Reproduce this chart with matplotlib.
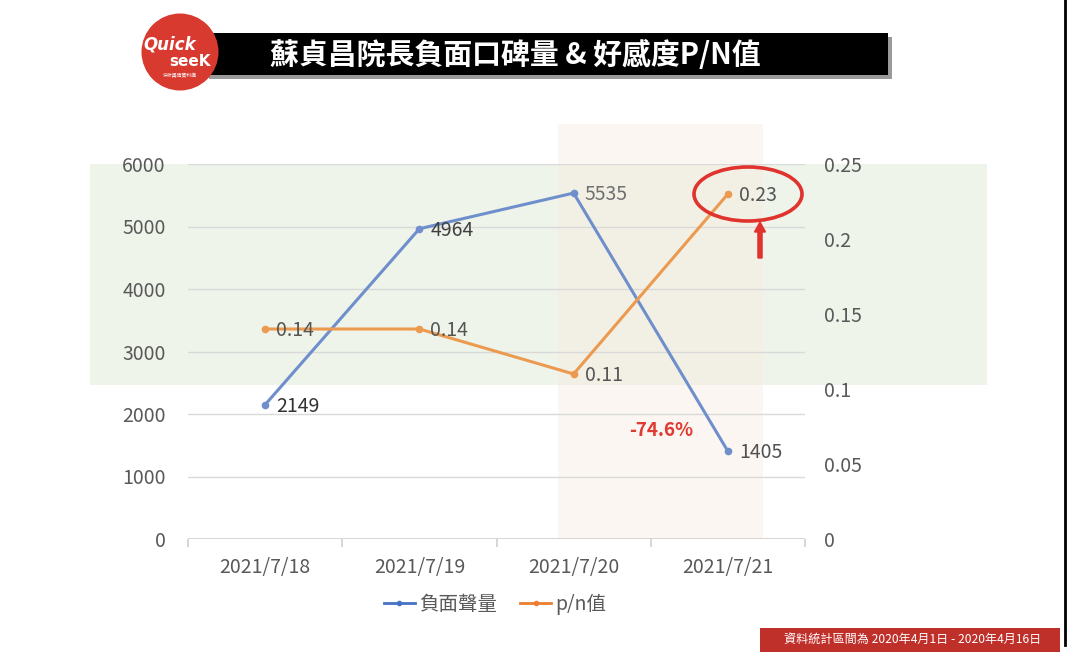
import matplotlib
matplotlib.use('Agg')
import matplotlib.pyplot as plt
from matplotlib.patches import Rectangle, Ellipse, FancyArrow

plt.rcParams['font.family'] = ['Noto Sans CJK TC', 'DejaVu Sans']

# data
dates = ['2021/7/18', '2021/7/19', '2021/7/20', '2021/7/21']
neg_volume = [2149, 4964, 5535, 1405]
pn_ratio = [0.14, 0.14, 0.11, 0.23]
title = '蘇貞昌院長負面口碑量 & 好感度P/N值'
footer = '資料統計區間為 2020年4月1日 - 2020年4月16日'
change_note = '-74.6%'

W, H = 1068, 652
fig = plt.figure(figsize=(W / 100, H / 100), dpi=100)


def px_rect(x0, y0, x1, y1, **kw):
    # rectangle given in pixel coords (y from top)
    r = Rectangle((x0 / W, 1 - y1 / H), (x1 - x0) / W, (y1 - y0) / H,
                  transform=fig.transFigure, **kw)
    fig.patches.append(r)
    return r


# background bands
px_rect(90, 164, 987, 385, facecolor='#eef4ea', edgecolor='none', zorder=-3)
px_rect(558, 124, 763, 539, facecolor='#f8ece0', edgecolor='none', alpha=0.45, zorder=-2)

# right edge line
fig.add_artist(plt.Line2D([1065 / W, 1065 / W], [1 - 645 / H, 1], color='black', lw=2,
                          transform=fig.transFigure))

# title bar with shadow
px_rect(209, 37, 892, 79, facecolor='#9a9a9a', edgecolor='none', zorder=1)
px_rect(205, 33, 888, 75, facecolor='black', edgecolor='none', zorder=2)
fig.text(270 / W, 1 - 55 / H, title, color='white', fontsize=20.8, fontweight='bold',
         va='center', ha='left', zorder=3)

# logo
logo = Ellipse((180 / W, 1 - 52 / H), 77 / W, 77 / H, transform=fig.transFigure,
               facecolor='#d93a2f', edgecolor='none', zorder=4)
fig.patches.append(logo)
fig.text(170 / W, 1 - 45 / H, 'Quick', color='white', fontsize=12, fontweight='bold',
         fontstyle='italic', ha='center', va='center', zorder=5, family='DejaVu Sans')
fig.text(190 / W, 1 - 62 / H, 'seeK', color='white', fontsize=11, fontweight='bold',
         ha='center', va='center', zorder=5, family='DejaVu Sans')
fig.text(180 / W, 1 - 76 / H, '快析輿情資料庫', color='white', fontsize=3.5,
         ha='center', va='center', zorder=5)

# footer
px_rect(760, 628, 1060, 652, facecolor='#c0302a', edgecolor='none', zorder=1)
fig.text(913 / W, 1 - 640 / H, footer, color='white', fontsize=8.7,
         ha='center', va='center', zorder=2)

# axes
ax = fig.add_axes([188 / W, 1 - 539 / H, (805 - 188) / W, (539 - 164) / H])
ax.set_facecolor('none')
ax2 = ax.twinx()
ax2.set_facecolor('none')

x = list(range(len(dates)))
blue = '#6f8fcc'
orange = '#eb9a50'
ax.plot(x, neg_volume, color=blue, lw=2.2, marker='o', ms=4.5, zorder=3, solid_capstyle='round')
ax2.plot(x, pn_ratio, color=orange, lw=2.2, marker='o', ms=4.5, zorder=3, solid_capstyle='round')

ax.set_xlim(-0.5, 3.5)
ax.set_ylim(0, 6000)
ax2.set_ylim(0, 0.25)
ax.set_yticks(range(0, 7000, 1000))
ax2.set_yticks([0, 0.05, 0.1, 0.15, 0.2, 0.25])
ax2.set_yticklabels(['0', '0.05', '0.1', '0.15', '0.2', '0.25'])
ax.set_xticks(x)
ax.set_xticklabels(dates)
ax.set_xticks([-0.5, 0.5, 1.5, 2.5, 3.5], minor=True)

ax.grid(axis='y', color='#d9d9d9', lw=1)
ax.set_axisbelow(True)
for a in (ax, ax2):
    for s in ('top', 'left', 'right', 'bottom'):
        a.spines[s].set_visible(False)
ax.axhline(0, color='#d0d0d0', lw=1.2, zorder=2)

ax.tick_params(axis='x', which='major', length=0, pad=13, labelsize=14, labelcolor='#595959')
ax.tick_params(axis='x', which='minor', length=6, color='#d0d0d0', width=1.2)
ax.tick_params(axis='y', length=0, pad=16, labelsize=14, labelcolor='#595959')
ax2.tick_params(axis='y', length=0, pad=14, labelsize=14, labelcolor='#595959')

# data labels
blue_lbl_colors = ['#333333', '#404040', '#707070', '#505050']
for i, v in enumerate(neg_volume):
    ax.annotate(str(v), (i, v), xytext=(8, -1), textcoords='offset points',
                ha='left', va='center', fontsize=14, color=blue_lbl_colors[i], zorder=4)
for i, v in enumerate(pn_ratio):
    ax2.annotate(f'{v:.2f}', (i, v), xytext=(8, -1), textcoords='offset points',
                 ha='left', va='center', fontsize=14, color='#555555', zorder=4)

# annotation: change
ax.text(2.57, 1740, change_note, color='#e03a33', fontsize=13.5, fontweight='bold',
        ha='center', va='center')

# highlight ellipse and arrow (figure pixel coords)
ell = Ellipse((748 / W, 1 - 194 / H), 108 / W, 54 / H, transform=fig.transFigure,
              facecolor='none', edgecolor='#e0332e', lw=2.6, zorder=6)
fig.patches.append(ell)
fig.add_artist(FancyArrow(760 / W, 1 - 258 / H, 0, 36 / H, width=2.5 / H,
                          head_width=11 / W, head_length=10 / H, length_includes_head=True,
                          color='#e0332e', transform=fig.transFigure))

# legend
h1, = ax.plot([], [], color='#4472c4', lw=2, marker='o', ms=3)
h2, = ax.plot([], [], color='#ed7d31', lw=2, marker='o', ms=3)
fig.legend([h1, h2], ['負面聲量', 'p/n值'], loc='center', bbox_to_anchor=(495 / W, 1 - 604 / H),
           ncol=2, frameon=False, fontsize=14, handlelength=1.6, handletextpad=0.2,
           columnspacing=1.2, labelcolor='#595959')

fig.savefig('out.png', dpi=100)
